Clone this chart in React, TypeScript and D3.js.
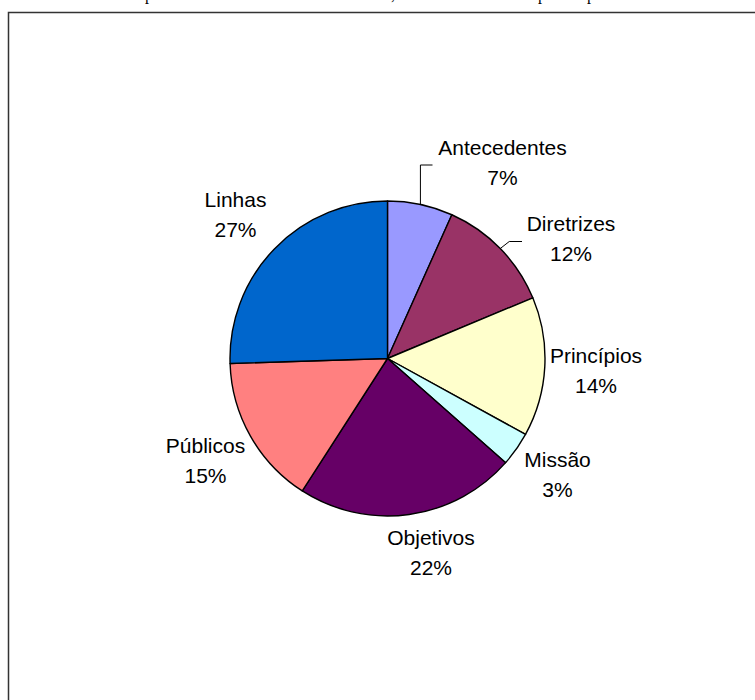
import React from "react";
import * as d3 from "d3";

const categories = ["Antecedentes", "Diretrizes", "Princípios", "Missão", "Objetivos", "Públicos", "Linhas"];
const values = [6.7, 12.0, 14.3, 3.5, 22.6, 15.4, 25.5];
const percentLabels = ["7%", "12%", "14%", "3%", "22%", "15%", "27%"];
const colors = ["#9999FF", "#993366", "#FFFFCC", "#CCFFFF", "#660066", "#FF8080", "#0066CC"];
// label anchor (centre x, first-line baseline)
const labelPos: [number, number][] = [
  [502.5, 155],
  [571, 231],
  [596, 363],
  [557.5, 467],
  [431, 545],
  [205.5, 453],
  [235.5, 207],
];
const captionFragments = [
  { t: "p", x: 145 },
  { t: ",", x: 391 },
  { t: "p", x: 538 },
  { t: "p", x: 587 },
];

export default function App() {
  const W = 755, H = 700;
  const cx = 387.5, cy = 358.5, r = 157.5;
  const pie = d3.pie<number>().sort(null).value((d) => d)(values);
  const arc = d3.arc<d3.PieArcDatum<number>>().innerRadius(0).outerRadius(r);

  const pt = (a: number, rad: number) => [cx + rad * Math.sin(a), cy - rad * Math.cos(a)];
  const a0 = (pie[0].startAngle + pie[0].endAngle) / 2;
  const p0 = pt(a0, r);
  const a1 = (pie[1].startAngle + pie[1].endAngle) / 2;
  const p1 = pt(a1, r);

  return (
    <svg width={W} height={H} style={{ position: "absolute", left: 0, top: 0, background: "#fff" }}>
      <rect x={0} y={0} width={W} height={H} fill="#fff" />
      {captionFragments.map((c, i) => (
        <text key={i} x={c.x} y={-0.5} fontFamily="'Liberation Serif', 'Times New Roman', serif" fontSize={16} fill="#000">
          {c.t}
        </text>
      ))}
      <path d={`M${W + 5},12.5 H8.5 V${H + 5}`} fill="none" stroke="#333" strokeWidth={1.5} />
      <g transform={`translate(${cx},${cy})`}>
        {pie.map((d, i) => (
          <path key={i} d={arc(d) || ""} fill={colors[i]} stroke="#000" strokeWidth={1.4} strokeLinejoin="round" />
        ))}
      </g>
      <polyline points={`${p0[0]},${p0[1]} ${p0[0]},165 432.5,165`} fill="none" stroke="#000" strokeWidth={1} />
      <polyline points={`${p1[0]},${p1[1]} ${p1[0] + 9},241.5 522,241.5`} fill="none" stroke="#000" strokeWidth={1} />
      {categories.map((c, i) => (
        <text key={i} textAnchor="middle" fontFamily="'Liberation Sans', Arial, sans-serif" fontSize={21} fill="#000">
          <tspan x={labelPos[i][0]} y={labelPos[i][1]}>{c}</tspan>
          <tspan x={labelPos[i][0]} y={labelPos[i][1] + 30}>{percentLabels[i]}</tspan>
        </text>
      ))}
    </svg>
  );
}
